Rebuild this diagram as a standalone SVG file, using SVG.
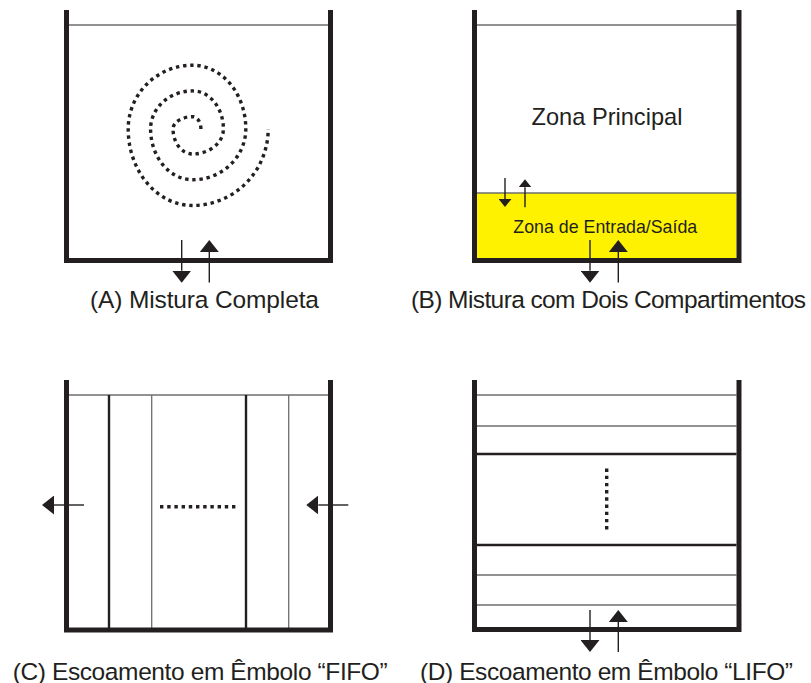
<svg xmlns="http://www.w3.org/2000/svg" width="811" height="683" viewBox="0 0 811 683">
<defs>
<style>
.wall{fill:none;stroke:#231f20;stroke-width:5;stroke-linejoin:miter;stroke-linecap:butt}
.thin{stroke:#6d6e71;stroke-width:1.3;fill:none}
.thick{stroke:#231f20;stroke-width:2.4;fill:none}
.dots{fill:none;stroke:#231f20;stroke-width:3.4;stroke-dasharray:3.4 3.8}
.arr{stroke:#231f20;stroke-width:1.4;fill:none}
.big{marker-end:url(#headBig)}
.small{marker-end:url(#headSmall)}
.cap{font-family:"Liberation Sans",Arial,sans-serif;font-size:24.5px;fill:#231f20}
.lbl{font-family:"Liberation Sans",Arial,sans-serif;fill:#231f20;text-anchor:middle}
</style>
<marker id="headBig" markerUnits="userSpaceOnUse" viewBox="0 0 12 19" markerWidth="12" markerHeight="19" refX="0" refY="9.5" orient="auto">
<path d="M0,0 L12,9.5 L0,19 Z" fill="#231f20"/>
</marker>
<marker id="headSmall" markerUnits="userSpaceOnUse" viewBox="0 0 8 13" markerWidth="8" markerHeight="13" refX="0" refY="6.5" orient="auto">
<path d="M0,0 L8,6.5 L0,13 Z" fill="#231f20"/>
</marker>
</defs>
<rect width="811" height="683" fill="#ffffff"/>

<g id="panel-a">
<line class="thin" x1="69" y1="25" x2="328" y2="25"/>
<path class="dots" d="M200.9,128.9 A8.3,12.2 0 0 0 192.6,116.7 A19.55,12.2 0 0 0 173.05,128.9 A19.55,25.1 0 0 0 192.6,154 A30.8,25.1 0 0 0 223.4,128.9 A30.8,38 0 0 0 192.6,90.9 A42,38 0 0 0 150.6,128.9 A42,50.85 0 0 0 192.6,179.75 A53.2,50.85 0 0 0 245.8,128.9 A53.2,63.7 0 0 0 192.6,65.2 A64.4,63.7 0 0 0 128.2,128.9 A64.4,76.6 0 0 0 192.6,205.5 A75.6,76.6 0 0 0 268.2,128.9"/>
<path class="wall" d="M66.5,10 V260.5 H330.5 V10"/>
<text class="cap" x="90" y="308" textLength="229">(A) Mistura Completa</text>
</g>

<g id="panel-b">
<line class="thin" x1="477" y1="25" x2="736.5" y2="25"/>
<rect x="477" y="193" width="259.5" height="65.5" fill="#fff200"/>
<line class="thin" x1="477" y1="193" x2="736.5" y2="193"/>
<text class="lbl" x="607" y="125" font-size="23.6">Zona Principal</text>
<text class="lbl" x="605.3" y="232.5" font-size="17.8">Zona de Entrada/Saída</text>
<path class="wall" d="M474.5,10 V260.5 H739 V10"/>
<text class="cap" x="411" y="308" textLength="395">(B) Mistura com Dois Compartimentos</text>
</g>

<g id="panel-c">
<line class="thin" x1="69" y1="395" x2="328" y2="395"/>
<line class="thick" x1="109" y1="395" x2="109" y2="628"/>
<line class="thin" x1="151.7" y1="395" x2="151.7" y2="628"/>
<line class="thick" x1="246" y1="395" x2="246" y2="628"/>
<line class="thin" x1="288.7" y1="395" x2="288.7" y2="628"/>
<line class="dots" x1="160" y1="506.7" x2="238" y2="506.7"/>
<path class="wall" d="M66.5,380 V630 H330.5 V380"/>
<text class="cap" x="12.7" y="679.5" textLength="375">(C) Escoamento em Êmbolo “FIFO”</text>
</g>

<g id="panel-d">
<line class="thin" x1="477" y1="395" x2="736.5" y2="395"/>
<line class="thin" x1="477" y1="426" x2="736.5" y2="426"/>
<line class="thick" x1="477" y1="454" x2="736.5" y2="454"/>
<line class="thick" x1="477" y1="545" x2="736.5" y2="545"/>
<line class="thin" x1="477" y1="575" x2="736.5" y2="575"/>
<line class="thin" x1="477" y1="605" x2="736.5" y2="605"/>
<line class="dots" x1="606.7" y1="468.5" x2="606.7" y2="532"/>
<path class="wall" d="M474.5,380 V629.5 H739 V380"/>
<text class="cap" x="420" y="679.5" textLength="373">(D) Escoamento em Êmbolo “LIFO”</text>
</g>

<g id="connectors">
<line class="arr big" x1="181.7" y1="240" x2="181.7" y2="270.7"/>
<line class="arr big" x1="209.3" y1="282.5" x2="209.3" y2="252"/>
<line class="arr small" x1="505" y1="178" x2="505" y2="199"/>
<line class="arr small" x1="525" y1="207.3" x2="525" y2="187.3"/>
<line class="arr big" x1="590" y1="240" x2="590" y2="270.7"/>
<line class="arr big" x1="618.3" y1="282.5" x2="618.3" y2="252"/>
<line class="arr big" x1="84" y1="505" x2="54" y2="505"/>
<line class="arr big" x1="348.3" y1="505" x2="318.3" y2="505"/>
<line class="arr big" x1="590" y1="610" x2="590" y2="640"/>
<line class="arr big" x1="618.3" y1="652" x2="618.3" y2="622"/>
</g>
</svg>
